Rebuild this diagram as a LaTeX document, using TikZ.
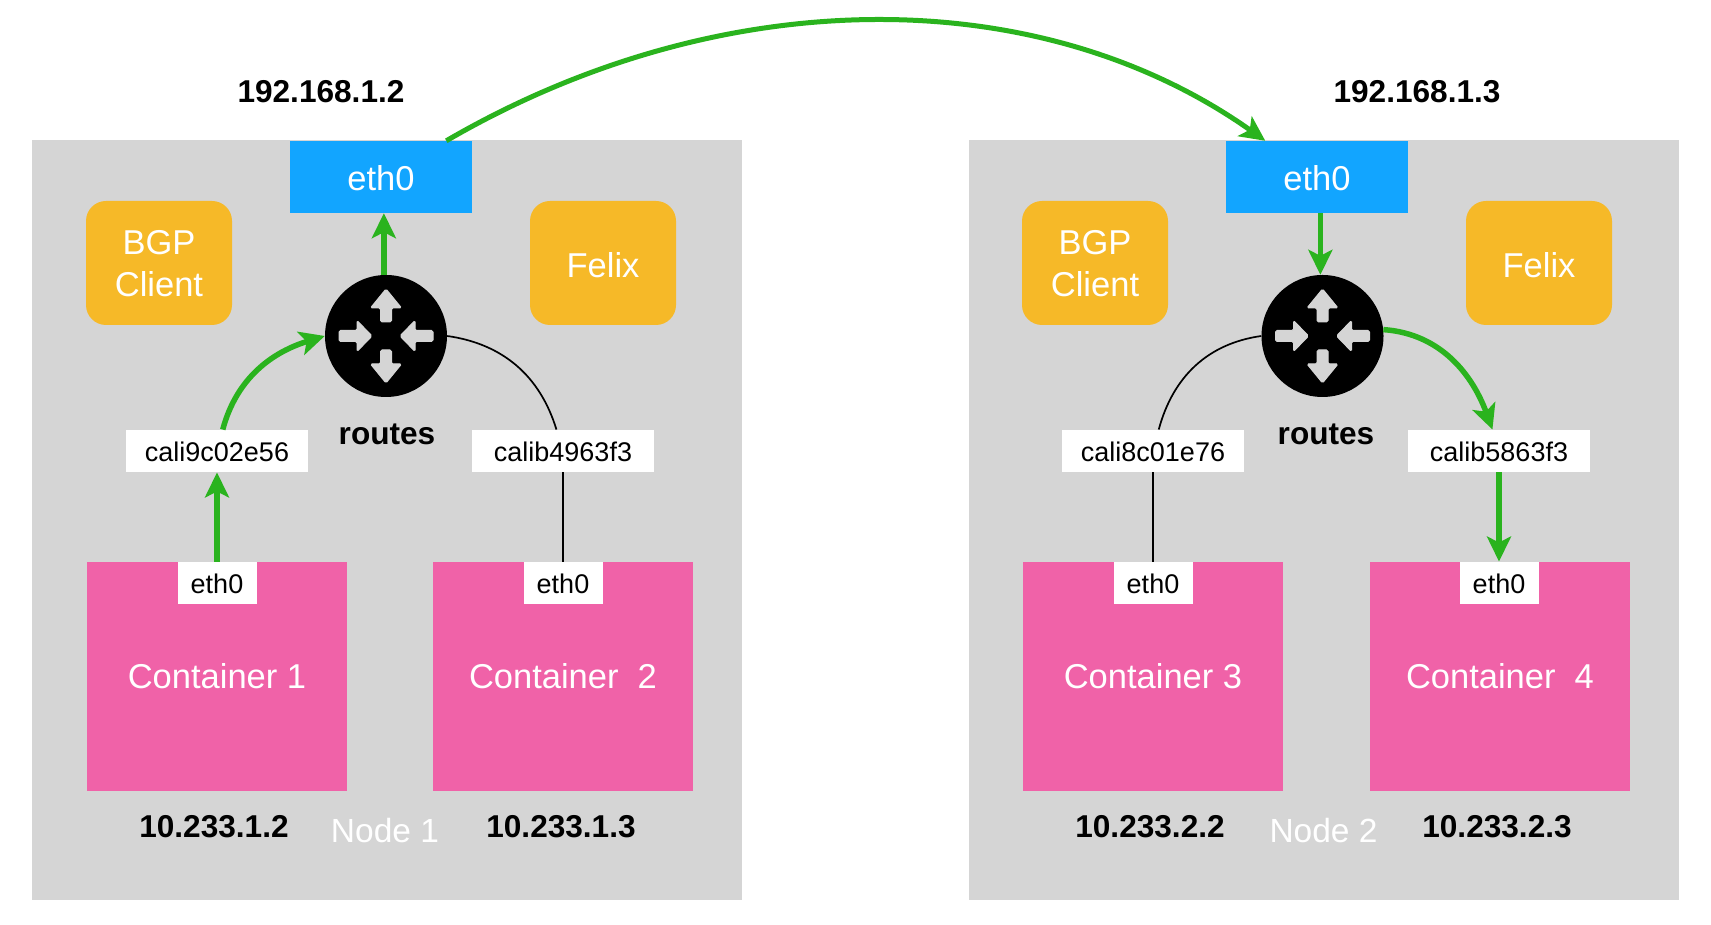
\documentclass[tikz,border=0pt]{standalone}
\usepackage{fontspec}
\setmainfont{Liberation Sans}
\usetikzlibrary{arrows.meta,calc}
\definecolor{panelgrey}{HTML}{D5D5D5}
\definecolor{ifaceblue}{HTML}{12A5FF}
\definecolor{agentorange}{HTML}{F6B928}
\definecolor{podpink}{HTML}{F062A8}
\definecolor{flowgreen}{HTML}{2AB31E}
\tikzset{
  x=1pt,y=1pt,
  panel/.style={fill=panelgrey,draw=none,minimum width=710pt,minimum height=760pt,inner sep=0pt},
  hosteth/.style={fill=ifaceblue,text=white,minimum width=181.5pt,minimum height=72pt,inner sep=0pt,text height=27.5pt,text depth=0pt,font=\fontsize{34.5}{38}\selectfont},
  agent/.style={fill=agentorange,text=white,rounded corners=20pt,minimum width=146pt,minimum height=124pt,inner sep=0pt,align=center,font=\fontsize{34.5}{42}\selectfont},
  router/.style={circle,fill=black,minimum size=122pt,inner sep=0pt},
  veth/.style={fill=white,text=black,minimum width=182pt,minimum height=42.5pt,inner sep=0pt,text height=21.7pt,text depth=0pt,font=\fontsize{27}{30}\selectfont},
  pod/.style={fill=podpink,text=white,minimum width=260pt,minimum height=229pt,inner sep=0pt,font=\fontsize{34.5}{38}\selectfont},
  podeth/.style={fill=white,text=black,minimum width=79pt,minimum height=42.5pt,inner sep=0pt,text height=21.7pt,text depth=0pt,font=\fontsize{27}{30}\selectfont},
  iplabel/.style={text=black,inner sep=0pt,font=\bfseries\fontsize{31.6}{36}\selectfont},
  nodelabel/.style={text=white,inner sep=0pt,font=\fontsize{33.5}{38}\selectfont},
  flow/.style={draw=flowgreen,line width=5.5pt,-{Stealth[length=25pt,width=24pt,inset=6pt]}},
  link/.style={draw=black,line width=1.7pt},
  routerarrow/.style={fill=panelgrey,draw=panelgrey,line width=1pt,rounded corners=1.5pt},
}
% Lowers a label inside its box without changing the box
\newcommand{\nudge}[2]{\raisebox{-#1}[\height][\depth]{#2}}
% Four arrow glyphs on a router disc: up and down point out, left and right point in
\newcommand{\routerglyph}[1]{%
  \foreach \ang in {0,180}{
    \path[routerarrow,shift={(#1)},rotate=\ang]
      (0,47) -- (15.5,28) -- (5.5,28) -- (5.5,14) -- (-5.5,14) -- (-5.5,28) -- (-15.5,28) -- cycle;
    \path[routerarrow,shift={(#1)},rotate=\ang]
      (-14,0) -- (-29,15.5) -- (-29,5.5) -- (-47,5.5) -- (-47,-5.5) -- (-29,-5.5) -- (-29,-15.5) -- cycle;
  }%
}
\begin{document}
\begin{tikzpicture}
\useasboundingbox (0,0) rectangle (1711,925);

% Host panels
\node[panel] (panelA) at (387,405) {};
\node[panel] (panelB) at (1324,405) {};

% Host addresses
\node[iplabel] (ipA) at (321,833) {192.168.1.2};
\node[iplabel] (ipB) at (1417,833) {192.168.1.3};

% Host interfaces
\node[hosteth] (hostA) at (381,748) {eth0};
\node[hosteth] (hostB) at (1317,748) {eth0};

% Agents
\node[agent] (bgpA) at (159,662) {\nudge{1pt}{BGP}\\\nudge{1pt}{Client}};
\node[agent] (felixA) at (603,662) {\nudge{2pt}{Felix}};
\node[agent] (bgpB) at (1095,662) {\nudge{1pt}{BGP}\\\nudge{1pt}{Client}};
\node[agent] (felixB) at (1539,662) {\nudge{2pt}{Felix}};

% Routers
\node[router] (routerA) at (386,589) {};
\node[router] (routerB) at (1322.5,589) {};
\routerglyph{386,589}
\routerglyph{1322.5,589}
\node[iplabel] (routesA) at (387,491) {routes};
\node[iplabel] (routesB) at (1326,491) {routes};

% Veth ends
\node[veth] (vethA) at (217,474) {cali9c02e56};
\node[veth] (vethB) at (563,474) {calib4963f3};
\node[veth] (vethC) at (1153,474) {cali8c01e76};
\node[veth] (vethD) at (1499,474) {calib5863f3};

% Containers
\node[pod] (podA) at (217,248.5) {Container 1};
\node[pod] (podB) at (563,248.5) {Container\ \ 2};
\node[pod] (podC) at (1153,248.5) {Container 3};
\node[pod] (podD) at (1500,248.5) {Container\ \ 4};
\node[podeth] (ethA) at (217,342) {eth0};
\node[podeth] (ethB) at (563,342) {eth0};
\node[podeth] (ethC) at (1153,342) {eth0};
\node[podeth] (ethD) at (1499,342) {eth0};

% Container addresses and node names
\node[iplabel] (addrA) at (214,98) {10.233.1.2};
\node[iplabel] (addrB) at (561,98) {10.233.1.3};
\node[iplabel] (addrC) at (1150,98) {10.233.2.2};
\node[iplabel] (addrD) at (1497,98) {10.233.2.3};
\node[nodelabel] (nameA) at (385,94) {Node 1};
\node[nodelabel] (nameB) at (1323.5,94) {Node 2};

% Traffic path
\draw[flow] (ethA.north) -- (vethA.south);
\draw[flow] (vethA.75) to[out=75,in=197] (routerA.180);
\draw[flow] (routerA.92) -- (routerA.92 |- hostA.south);
\draw[flow,line width=5pt] (hostA.29) .. controls +(275,160) and +(-226,160) .. (hostB.145);
\draw[flow] (routerB.92 |- hostB.south) -- (routerB.92);
\draw[flow] (routerB.6) to[out=-4,in=110] (vethD.107);
\draw[flow] (vethD.south) -- (ethD.north);

% Idle links
\draw[link] (ethB.north) -- (vethB.south);
\draw[link] (vethB.107) to[out=107,in=-8] (routerA.0);
\draw[link] (ethC.north) -- (vethC.south);
\draw[link] (vethC.75) to[out=75,in=188] (routerB.180);
\end{tikzpicture}
\end{document}
